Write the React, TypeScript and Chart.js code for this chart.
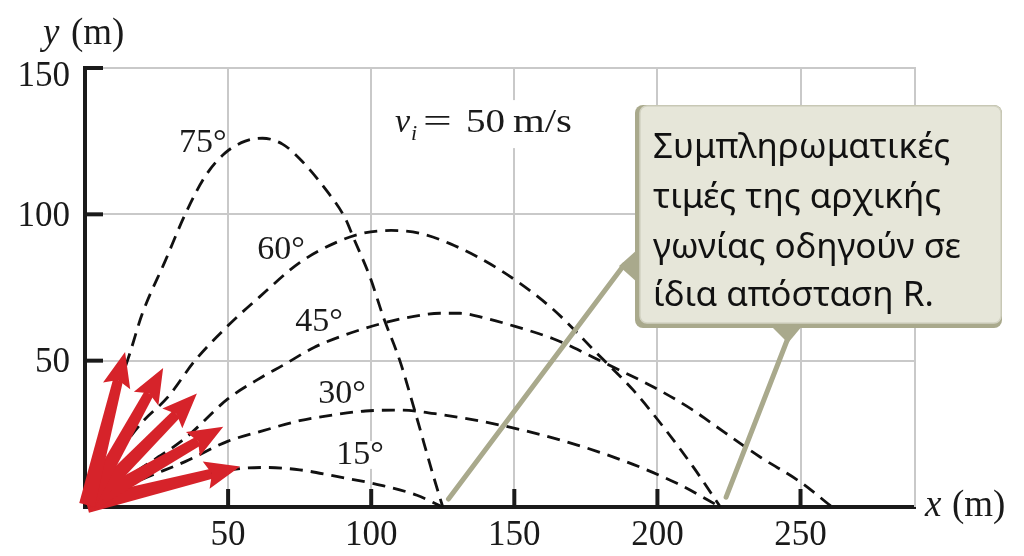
import React, { useEffect, useRef } from 'react';
import { Chart, registerables } from 'chart.js';

Chart.register(...registerables);

// ---------- data (metres) ----------
const xTickValues = [50, 100, 150, 200, 250];
const yTickValues = [50, 100, 150];

const traj15X = [0, 15, 30, 45, 55, 63, 75, 87, 104, 116, 125];
const traj15Y = [0, 5, 9, 11.8, 13.2, 13.5, 12.7, 10.6, 7.3, 4, 0];

const traj30X = [0, 10, 20, 35, 50, 62, 75, 87, 98, 110, 125, 145, 165, 189, 207, 222];
const traj30Y = [0, 5, 9.5, 15.5, 22.5, 26, 29.5, 31.5, 32.8, 33.1, 31.5, 28, 23.2, 15.5, 8, 0];

const traj45X = [0, 10, 20, 35, 50, 62, 69.3, 80, 90, 104, 114, 124, 131, 140, 147.5, 163.6, 170.6, 181, 198.6, 212.6, 218.4, 236, 250, 261];
const traj45Y = [0, 7, 13.5, 23.5, 37, 44.5, 48.5, 54.5, 58.5, 62.8, 65, 66.2, 66.2, 64.5, 62.5, 57.5, 54.5, 49.5, 41, 33, 29, 17, 8.5, 0];

const traj60X = [0, 10, 20, 29, 38.4, 50, 61, 75, 88, 97, 107, 117, 127.5, 145, 163, 180, 191.5, 201, 212.5, 222];
const traj60Y = [0, 16, 29, 37.6, 50, 62, 71.8, 83.5, 90.5, 93.5, 94.5, 93.5, 90, 81, 68, 51.4, 40, 28.7, 13.7, 0];

const traj75X = [0, 5, 10, 15.7, 20, 28, 35, 42, 49, 56, 62, 69, 75, 84.5, 91, 93.8, 99.6, 104.2, 110, 115.3, 121.6, 125];
const traj75Y = [0, 19, 36, 52.6, 66, 84, 100, 113, 121, 125, 126, 124, 119, 108, 98.5, 92, 78.5, 65, 50, 32.6, 11, 0];

const angleNames = ['15°', '30°', '45°', '60°', '75°'];
const angleLabelX = [96.1, 89.8, 81.8, 68.5, 41.2];
const angleLabelY = [17.8, 38.6, 63.2, 87.8, 124.4];

// launch velocity arrows (tips, metres)
const arrowTipX = [54.2, 48.3, 39.1, 27.3, 14.0];
const arrowTipY = [13.8, 27.4, 38.8, 47.5, 53.0];

// callout
const calloutLines = ['Συμπληρωματικές', 'τιμές της αρχικής', 'γωνίας οδηγούν σε', 'ίδια απόσταση R.'];
const calloutTargetX = [127, 224];
const calloutTargetY = [2.7, 3.4];

const speedLabelX = 108.3;
const speedLabelY = 128.1;

// ---------- styles ----------
const SERIF_FAMILY = '"Liberation Serif", Tinos, "Times New Roman", Times, serif';
const SANS = '"Noto Sans", "Open Sans", sans-serif';
const GRID = '#c9c9c9';
const INK = '#1a1a1a';
const RED = '#d6232a';
const OLIVE = '#a9a98c';

function toPts(xs: number[], ys: number[]) {
  return xs.map((v, i) => ({ x: v, y: ys[i] }));
}

const overlay = {
  id: 'overlay',
  beforeDatasetsDraw(chart: any) {
    const { ctx, chartArea: a, scales } = chart;
    const x = scales.x, y = scales.y;
    ctx.save();
    ctx.strokeStyle = GRID;
    ctx.lineWidth = 2;
    ctx.beginPath();
    ctx.moveTo(a.right, a.top - 1);
    ctx.lineTo(a.right, a.bottom);
    ctx.stroke();
    ctx.fillStyle = '#ffffff';
    const sx = x.getPixelForValue(speedLabelX);
    const sy = y.getPixelForValue(speedLabelY);
    ctx.fillRect(sx - 6, sy - 32, 192, 48);
    const lx = x.getPixelForValue(angleLabelX[0]);
    const ly = y.getPixelForValue(angleLabelY[0]);
    ctx.fillRect(lx - 25, ly - 14, 50, 28);
    ctx.restore();
  },
  afterDatasetsDraw(chart: any) {
    const { ctx, chartArea: a, scales } = chart;
    const x = scales.x, y = scales.y;
    ctx.save();

    // inward black tick marks
    ctx.strokeStyle = INK;
    ctx.lineWidth = 4;
    ctx.lineCap = 'butt';
    yTickValues.forEach((v) => {
      const py = y.getPixelForValue(v);
      ctx.beginPath();
      ctx.moveTo(a.left, py);
      ctx.lineTo(a.left + 18, py);
      ctx.stroke();
    });
    xTickValues.forEach((v) => {
      const px = x.getPixelForValue(v);
      ctx.beginPath();
      ctx.moveTo(px, a.bottom);
      ctx.lineTo(px, a.bottom - 18);
      ctx.stroke();
    });

    // arrows
    const ox = x.getPixelForValue(0) + 2;
    const oy = y.getPixelForValue(0) - 2;
    ctx.fillStyle = RED;
    arrowTipX.forEach((tv, i) => {
      const tx = x.getPixelForValue(tv);
      const ty = y.getPixelForValue(arrowTipY[i]);
      const dx = tx - ox, dy = ty - oy;
      const len = Math.hypot(dx, dy);
      const ux = dx / len, uy = dy / len;
      const nx = -uy, ny = ux;
      const headLen = 35, headW = 14, shaftW = 10;
      const bx = tx - ux * headLen, by = ty - uy * headLen;
      ctx.beginPath();
      ctx.moveTo(ox + nx * shaftW * 0.8, oy + ny * shaftW * 0.8);
      ctx.lineTo(bx + ux * 6 + nx * shaftW / 2, by + uy * 6 + ny * shaftW / 2);
      ctx.lineTo(bx + ux * 6 - nx * shaftW / 2, by + uy * 6 - ny * shaftW / 2);
      ctx.lineTo(ox - nx * shaftW * 0.8, oy - ny * shaftW * 0.8);
      ctx.closePath();
      ctx.fill();
      ctx.beginPath();
      ctx.moveTo(tx, ty);
      ctx.lineTo(bx + nx * headW, by + ny * headW);
      ctx.lineTo(bx + ux * 6, by + uy * 6);
      ctx.lineTo(bx - nx * headW, by - ny * headW);
      ctx.closePath();
      ctx.fill();
    });

    // angle labels
    ctx.fillStyle = INK;
    ctx.font = `34px ${SERIF_FAMILY}`;
    ctx.textAlign = 'center';
    ctx.textBaseline = 'middle';
    angleNames.forEach((t, i) => {
      ctx.fillText(t, x.getPixelForValue(angleLabelX[i]), y.getPixelForValue(angleLabelY[i]));
    });

    // speed label  v_i = 50 m/s
    const sx = x.getPixelForValue(speedLabelX);
    const sy = y.getPixelForValue(speedLabelY);
    ctx.textAlign = 'left';
    ctx.textBaseline = 'alphabetic';
    ctx.font = `italic 34px ${SERIF_FAMILY}`;
    ctx.fillText('v', sx, sy);
    ctx.font = `italic 22px ${SERIF_FAMILY}`;
    ctx.fillText('i', sx + 16, sy + 8);
    ctx.font = `34px ${SERIF_FAMILY}`;
    ctx.save();
    ctx.translate(sx + 28, sy);
    ctx.scale(1.5, 1);
    ctx.fillText('=', 0, 0);
    ctx.restore();
    ctx.save();
    ctx.translate(sx + 71, sy);
    ctx.scale(1.15, 1);
    ctx.fillText('50', 0, 0);
    ctx.restore();
    ctx.save();
    ctx.translate(sx + 118, sy);
    ctx.scale(1.2, 1);
    ctx.fillText('m/s', 0, 0);
    ctx.restore();

    // callout pointer lines
    ctx.strokeStyle = OLIVE;
    ctx.lineWidth = 5;
    ctx.lineCap = 'round';
    const t1x = x.getPixelForValue(calloutTargetX[0]);
    const t1y = y.getPixelForValue(calloutTargetY[0]);
    const t2x = x.getPixelForValue(calloutTargetX[1]);
    const t2y = y.getPixelForValue(calloutTargetY[1]);
    ctx.beginPath();
    ctx.moveTo(624, 265);
    ctx.lineTo(t1x, t1y);
    ctx.stroke();
    ctx.beginPath();
    ctx.moveTo(788, 338);
    ctx.lineTo(t2x, t2y);
    ctx.stroke();

    // callout tabs
    ctx.fillStyle = OLIVE;
    ctx.beginPath();
    ctx.moveTo(638, 249);
    ctx.lineTo(638, 283);
    ctx.lineTo(619, 266);
    ctx.closePath();
    ctx.fill();
    ctx.beginPath();
    ctx.moveTo(770, 325);
    ctx.lineTo(803, 325);
    ctx.lineTo(788, 343);
    ctx.closePath();
    ctx.fill();

    // callout box
    const bx = 635, by = 105, bw = 367, bh = 223;
    ctx.fillStyle = OLIVE;
    ctx.beginPath();
    ctx.roundRect(bx, by, bw, bh, 8);
    ctx.fill();
    ctx.fillStyle = '#e6e6d9';
    ctx.strokeStyle = '#d2d2c2';
    ctx.lineWidth = 1.5;
    ctx.beginPath();
    ctx.roundRect(bx + 5, by + 1, bw - 6, bh - 6, 7);
    ctx.fill();
    ctx.stroke();

    ctx.fillStyle = '#111111';
    ctx.font = `35px ${SANS}`;
    ctx.textAlign = 'left';
    ctx.textBaseline = 'alphabetic';
    const baselines = [158, 208, 258, 306];
    calloutLines.forEach((t, i) => ctx.fillText(t, 653, baselines[i]));

    ctx.restore();
  },
  afterDraw(chart: any) {
    const { ctx, chartArea: a, scales } = chart;
    const x = scales.x, y = scales.y;
    ctx.save();
    ctx.fillStyle = INK;

    // tick labels (serif)
    ctx.font = `35px ${SERIF_FAMILY}`;
    ctx.textAlign = 'right';
    ctx.textBaseline = 'middle';
    yTickValues.forEach((v) => {
      const py = y.getPixelForValue(v);
      ctx.fillText(String(v), a.left - 15, v === 150 ? py + 9 : py + 2);
    });
    ctx.textAlign = 'center';
    ctx.textBaseline = 'middle';
    xTickValues.forEach((v) => {
      ctx.fillText(String(v), x.getPixelForValue(v), a.bottom + 29);
    });

    // axis titles
    ctx.textAlign = 'left';
    ctx.textBaseline = 'alphabetic';
    ctx.font = `italic 37px ${SERIF_FAMILY}`;
    ctx.fillText('y', a.left - 42, a.top - 24);
    ctx.font = `37px ${SERIF_FAMILY}`;
    ctx.fillText('(m)', a.left - 14, a.top - 24);
    ctx.font = `italic 37px ${SERIF_FAMILY}`;
    ctx.fillText('x', a.right + 10, a.bottom + 9);
    ctx.font = `37px ${SERIF_FAMILY}`;
    ctx.fillText('(m)', a.right + 37, a.bottom + 9);
    ctx.restore();
  },
};

export default function App() {
  const ref = useRef<HTMLCanvasElement | null>(null);

  useEffect(() => {
    if (!ref.current) return;
    const dash = {
      borderColor: '#111111',
      borderWidth: 2.8,
      borderDash: [13, 8],
      pointRadius: 0,
      fill: false,
      cubicInterpolationMode: 'monotone' as const,
    };
    const chart = new Chart(ref.current, {
      type: 'line',
      data: {
        datasets: [
          { label: angleNames[0], data: toPts(traj15X, traj15Y), ...dash },
          { label: angleNames[1], data: toPts(traj30X, traj30Y), ...dash },
          { label: angleNames[2], data: toPts(traj45X, traj45Y), ...dash },
          { label: angleNames[3], data: toPts(traj60X, traj60Y), ...dash },
          { label: angleNames[4], data: toPts(traj75X, traj75Y), ...dash },
        ],
      },
      options: {
        responsive: false,
        animation: false,
        layout: { padding: { left: 0, top: 68, right: 109, bottom: 0 } },
        plugins: { legend: { display: false }, tooltip: { enabled: false } },
        scales: {
          x: {
            type: 'linear',
            min: 0,
            max: 290,
            afterFit: (s: any) => { s.height = 49; },
            ticks: {
              stepSize: 50,
              includeBounds: false,
              autoSkip: false,
              maxRotation: 0,
              display: false,
            },
            grid: { color: GRID, lineWidth: 2, drawTicks: false },
            border: { color: INK, width: 4 },
          },
          y: {
            type: 'linear',
            min: 0,
            max: 150,
            afterFit: (s: any) => { s.width = 85; },
            ticks: {
              stepSize: 50,
              autoSkip: false,
              display: false,
            },
            grid: { color: GRID, lineWidth: 2, drawTicks: false },
            border: { color: INK, width: 4 },
          },
        },
      },
      plugins: [overlay],
    });
    return () => chart.destroy();
  }, []);

  return (
    <div style={{ position: 'absolute', left: 0, top: 0, width: 1024, height: 556, background: '#ffffff' }}>
      <canvas ref={ref} width={1024} height={556} style={{ display: 'block' }} />
    </div>
  );
}
